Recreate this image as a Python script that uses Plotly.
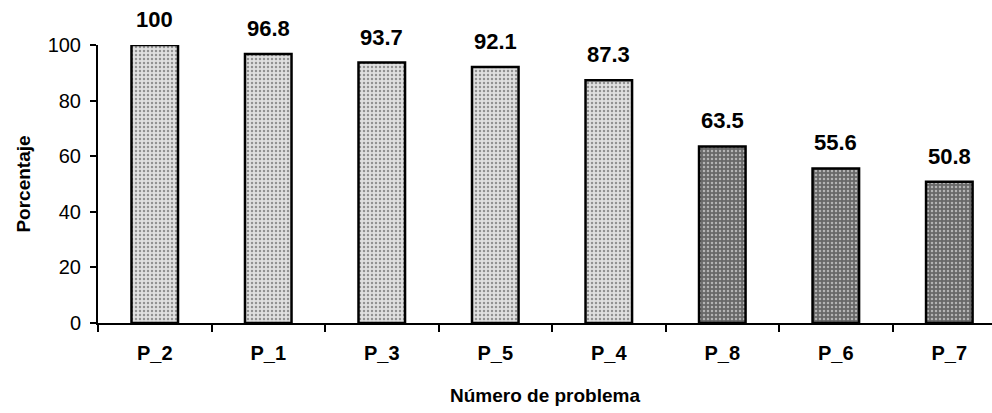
import plotly.graph_objects as go

# Percentage of correct answers per problem
problemas = ["P_2", "P_1", "P_3", "P_5", "P_4", "P_8", "P_6", "P_7"]
porcentajes = [100, 96.8, 93.7, 92.1, 87.3, 63.5, 55.6, 50.8]
grupo_oscuro = [False, False, False, False, False, True, True, True]

FONT = "Liberation Sans"

bg_colors = ["#686868" if d else "#e0e0e0" for d in grupo_oscuro]
fg_colors = ["#1e1e1e" if d else "#7a7a7a" for d in grupo_oscuro]

fig = go.Figure()
fig.add_trace(go.Bar(
    x=problemas,
    y=porcentajes,
    width=0.41,
    marker=dict(
        color=bg_colors,
        line=dict(color="black", width=2.5),
        pattern=dict(shape=".", size=4, solidity=0.3,
                     fgcolor=fg_colors, bgcolor=bg_colors, fillmode="overlay"),
    ),
    showlegend=False,
    hoverinfo="skip",
))

# Value labels above each bar
for p, v in zip(problemas, porcentajes):
    fig.add_annotation(
        x=p, y=v, text=f"<b>{v:g}</b>", showarrow=False,
        yanchor="bottom", yshift=11,
        font=dict(family=FONT, size=22, color="black"),
    )

fig.update_layout(
    width=992, height=413,
    margin=dict(l=98, r=0, t=45, b=90),
    paper_bgcolor="white", plot_bgcolor="white",
)
fig.update_xaxes(
    range=[-0.5, 7.376],
    showline=True, linecolor="black", linewidth=2,
    ticks="outside", tickson="boundaries", ticklen=7, tickwidth=2, tickcolor="black",
    tickfont=dict(family=FONT, size=20, color="black"),
    tickprefix="<b>", ticksuffix="</b>",
    ticklabelstandoff=11,
    title=dict(text="<b>Número de problema</b>", standoff=26,
               font=dict(family=FONT, size=19, color="black")),
    showgrid=False,
)
fig.update_yaxes(
    range=[0, 100], tickvals=[0, 20, 40, 60, 80, 100],
    showline=True, linecolor="black", linewidth=2,
    ticks="outside", ticklen=6, tickwidth=2, tickcolor="black",
    tickfont=dict(family=FONT, size=20, color="black"),
    tickprefix="<b>", ticksuffix="</b>",
    ticklabelstandoff=5,
    title=dict(text="<b>Porcentaje</b>", standoff=12,
               font=dict(family=FONT, size=19, color="black")),
    showgrid=False, zeroline=False,
)

fig.write_html("out.html")
